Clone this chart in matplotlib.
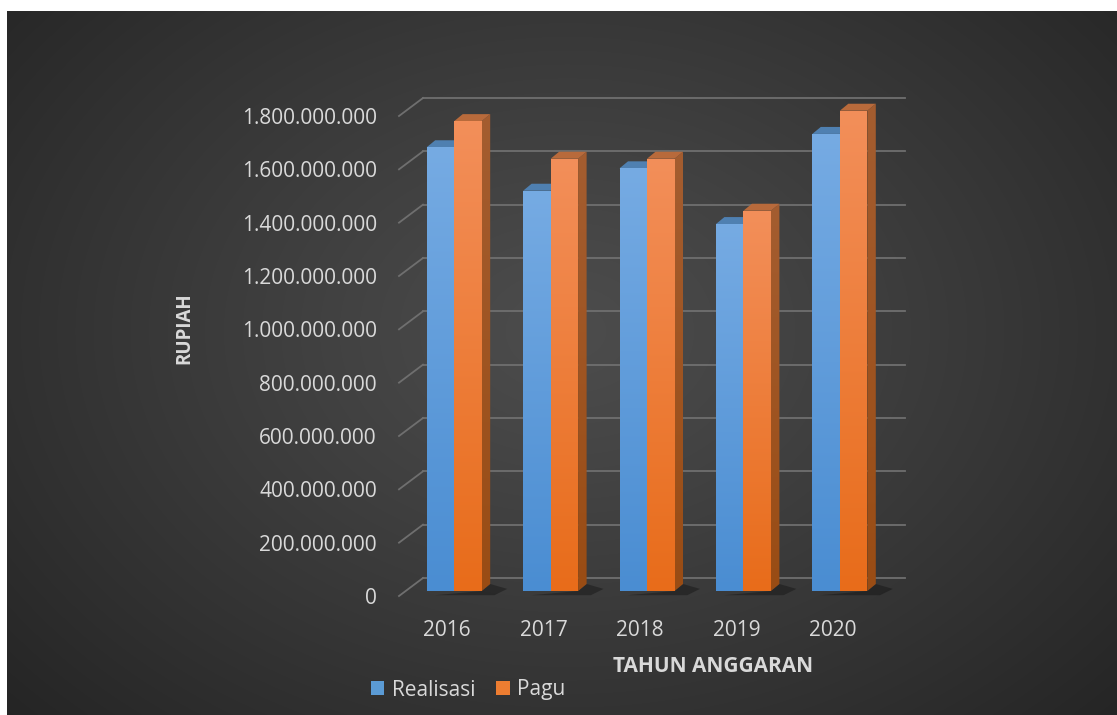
import numpy as np
import matplotlib.pyplot as plt
from matplotlib.patches import Polygon, Rectangle
from matplotlib.colors import LinearSegmentedColormap

years = ['2016', '2017', '2018', '2019', '2020']
realisasi = [1664e6, 1501e6, 1585e6, 1376e6, 1714e6]
pagu = [1762e6, 1621e6, 1621e6, 1426e6, 1801e6]
yticks = np.arange(0, 1.8e9 + 1, 2e8)
ytick_labels = [f'{int(v):,}'.replace(',', '.') for v in yticks]

plt.rcParams['font.family'] = ['Open Sans', 'DejaVu Sans']
W, H = 1117, 715
fig = plt.figure(figsize=(W / 100, H / 100), dpi=100, facecolor='white')

# dark radial background (white margin at left/top like the screenshot)
bg = fig.add_axes([7 / W, 0, 1 - 7 / W, 1 - 11 / H])
bg.set_axis_off()
gy, gx = np.mgrid[0:704, 0:1110]
r = np.hypot((gx - 560) / 760, (gy - 320) / 560)
shade = 0.30 - 0.155 * np.clip(r, 0, 1) ** 1.1
bg.imshow(np.dstack([shade] * 3), extent=(0, 1110, 704, 0), aspect='auto')

# front plane of the fake 3d box
ax = fig.add_axes([399 / W, 119 / H, 482 / W, 480 / H])
ax.set_xlim(-0.5, 4.5)
ax.set_ylim(0, 1.8e9)
ax.patch.set_visible(False)
for s in ax.spines.values():
    s.set_visible(False)

# pixel -> data units
ux = 5 / 482
uy = 1.8e9 / 480
wall_dx, wall_dy = 24 * ux, 18 * uy
grid_c = '#6f6f6f'
for v in yticks:
    ax.plot([-0.5 + wall_dx, 4.5 + wall_dx], [v + wall_dy, v + wall_dy],
            color=grid_c, lw=1.3, zorder=1, clip_on=False)
    ax.plot([-0.5, -0.5 + wall_dx], [v, v + wall_dy], color=grid_c, lw=1.3, zorder=1,
            clip_on=False)


def grad_fill(verts, c_top, c_bot, z):
    poly = Polygon(verts, closed=True, facecolor='none', edgecolor='none', zorder=z,
                   clip_on=False)
    ax.add_patch(poly)
    xs, ys = zip(*verts)
    cmap = LinearSegmentedColormap.from_list('g', [c_bot, c_top])
    im = ax.imshow(np.linspace(0, 1, 256).reshape(-1, 1), cmap=cmap,
                   extent=(min(xs), max(xs), min(ys), max(ys)), origin='lower',
                   aspect='auto', zorder=z, interpolation='bilinear')
    im.set_clip_box(fig.bbox)
    im.set_clip_path(poly)


bw = 27.5 * ux
off_x, off_y = 7 * ux, 5 * uy      # bars sit a bit behind the front plane
dep_x, dep_y = 8.5 * ux, 7 * uy     # bar depth
styles = [
    dict(front=('#76abe3', '#4a8dd2'), side=('#44729f', '#3a6896'), top='#4f80b1'),
    dict(front=('#f38f5a', '#e86c1a'), side=('#a45d30', '#994c14'), top='#b86a3b'),
]

z = 3
for i in range(len(years)):
    x_left = i - bw + off_x
    # soft floor shadow
    ax.add_patch(Polygon([(x_left + 2 * bw, off_y), (x_left + 2 * bw + dep_x, off_y + dep_y),
                          (x_left + 2 * bw + 3 * dep_x, off_y + 0.3 * dep_y),
                          (x_left + 2 * bw + 1.5 * dep_x, off_y - 0.6 * dep_y),
                          (x_left + 0.3 * bw, off_y - 0.6 * dep_y)],
                         closed=True, facecolor='black', alpha=0.3, edgecolor='none',
                         zorder=2, clip_on=False))
    for j, vals in enumerate([realisasi, pagu]):
        v = vals[i]
        st = styles[j]
        x0 = x_left + j * bw
        x1 = x0 + bw
        y0 = off_y
        y1 = off_y + v
        grad_fill([(x1, y0), (x1, y1), (x1 + dep_x, y1 + dep_y), (x1 + dep_x, y0 + dep_y)],
                  st['side'][0], st['side'][1], z)
        ax.add_patch(Polygon([(x0, y1), (x1, y1), (x1 + dep_x, y1 + dep_y), (x0 + dep_x, y1 + dep_y)],
                             closed=True, facecolor=st['top'], edgecolor='none',
                             zorder=z + 0.1, clip_on=False))
        grad_fill([(x0, y0), (x1, y0), (x1, y1), (x0, y1)], st['front'][0], st['front'][1], z + 0.2)
        z += 1

ax.set_xlim(-0.5, 4.5)
ax.set_ylim(0, 1.8e9)
ax.set_xticks(range(len(years)), years)
ax.set_yticks(yticks, ytick_labels)
ax.tick_params(axis='both', length=0, colors='#d9d9d9', labelsize=15)
ax.tick_params(axis='y', pad=16)
ax.tick_params(axis='x', pad=17)

fig.text(184.5 / W, 1 - 328.5 / H, 'RUPIAH', rotation=90, ha='center', va='center',
         fontsize=13.5, fontweight='bold', color='#d9d9d9')
fig.text(713 / W, 1 - 667 / H, 'TAHUN ANGGARAN', ha='center', va='center',
         fontsize=15, fontweight='bold', color='#d9d9d9')

handles = [Rectangle((0, 0), 1, 1, facecolor='#5b9bd5'),
           Rectangle((0, 0), 1, 1, facecolor='#ed7d31')]
fig.legend(handles, ['Realisasi', 'Pagu'], loc='center', bbox_to_anchor=(468 / W, 1 - 690 / H),
           ncol=2, frameon=False, fontsize=15, labelcolor='#d9d9d9',
           handlelength=0.65, handleheight=0.65, handletextpad=0.35, columnspacing=1.0)

fig.savefig('out.png', dpi=100, facecolor='white')
